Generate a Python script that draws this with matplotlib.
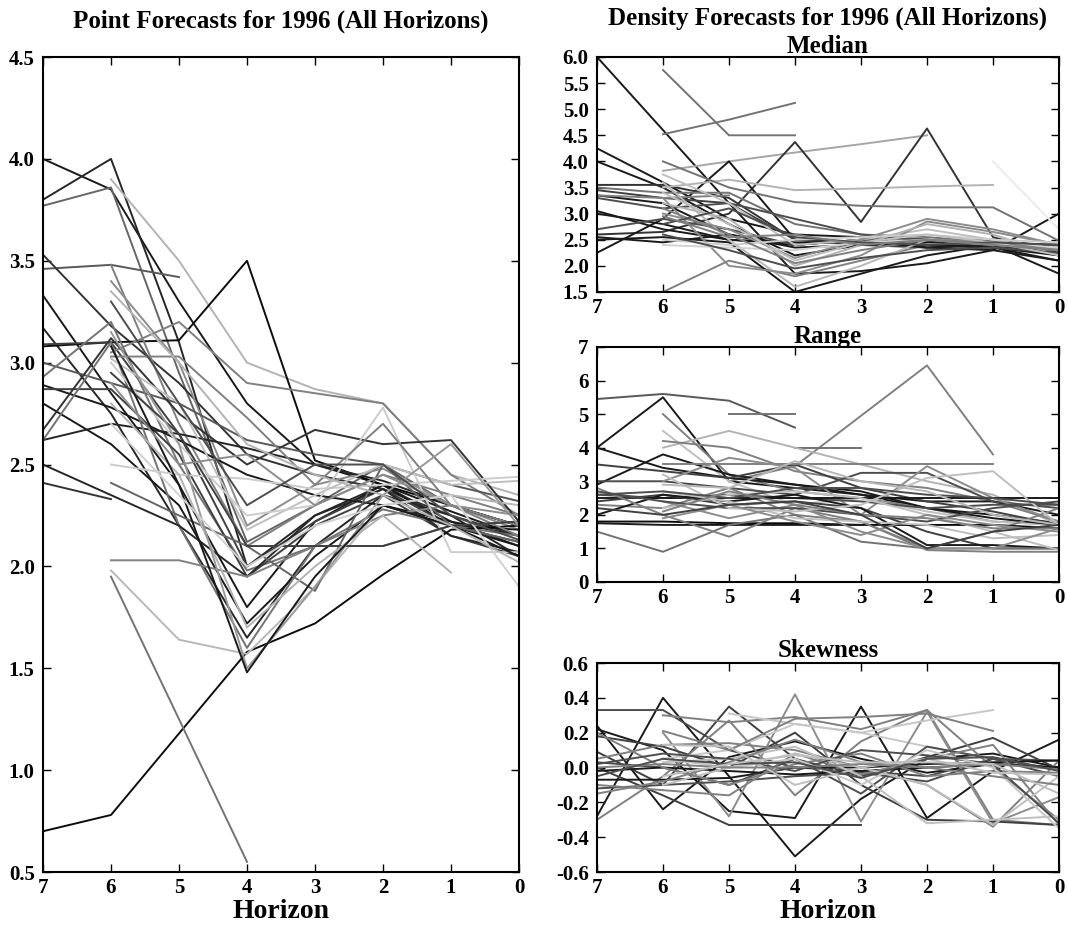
import numpy as np
import matplotlib
matplotlib.use("Agg")
import matplotlib.pyplot as plt
from matplotlib.ticker import FormatStrFormatter, MultipleLocator

N = np.nan
horizons = [7, 6, 5, 4, 3, 2, 1, 0]

# point forecasts, one row per forecaster, horizons 7..0
point_series = [
    [4.00, 3.85, 3.30, 2.80, 2.50, 2.40, 2.27, 2.15],
    [3.80, 4.00, 3.10, 2.00, 2.25, 2.40, 2.22, 2.10],
    [3.77, 3.86, 2.95, 2.12, 2.30, 2.50, 2.30, 2.20],
    [N, 3.90, 3.50, 3.00, 2.87, 2.80, 2.45, 2.35],
    [3.46, 3.48, 3.42, N, N, N, N, N],
    [3.53, 3.18, 2.90, 2.55, 2.45, 2.38, 2.25, 2.15],
    [3.33, 2.85, 2.40, 1.80, 2.22, 2.40, 2.20, 2.10],
    [3.17, 2.75, 2.20, 1.65, 2.10, 2.35, 2.25, 2.05],
    [3.08, 3.10, 3.11, 3.50, 2.52, 2.40, 2.30, 2.20],
    [3.09, 3.10, 2.65, 2.00, 2.22, 2.38, 2.20, 2.12],
    [N, 3.48, 2.70, 2.10, 2.30, 2.45, 2.35, 2.25],
    [N, 3.40, 3.00, 2.20, 2.40, 2.48, 2.30, 2.18],
    [N, 3.05, 3.20, 2.90, 2.85, 2.80, 2.45, 2.25],
    [3.00, 2.90, 2.80, 2.62, 2.55, 2.50, 2.40, 2.32],
    [2.93, 3.20, 2.50, 1.98, 2.10, 2.10, 2.20, 2.22],
    [2.89, 2.78, 2.62, 2.45, 2.35, 2.30, 2.22, 2.15],
    [2.87, 2.87, 2.55, 1.95, 2.20, 2.35, 2.15, 2.05],
    [2.80, 2.60, 2.30, 1.72, 2.05, 2.30, 2.20, 2.18],
    [2.67, 3.12, 2.75, 2.50, 2.67, 2.60, 2.62, 2.22],
    [2.62, 2.70, 2.65, 2.58, 2.50, 2.42, 2.30, 2.20],
    [2.62, 3.10, 2.20, 1.60, 2.10, 2.28, 2.20, 2.15],
    [2.50, 2.35, 2.20, 1.95, 2.25, 2.38, 2.15, 2.07],
    [2.41, 2.33, N, N, N, N, N, N],
    [0.70, 0.78, 1.18, 1.58, 1.72, 1.96, 2.18, 2.20],
    [N, 2.03, 2.03, 1.95, 2.10, 2.25, 2.30, 2.20],
    [N, 1.95, 1.25, 0.55, N, N, N, N],
    [N, 1.98, 1.64, 1.57, 1.90, 2.30, 2.35, 2.30],
    [N, 2.41, 2.25, 2.10, 1.88, 2.50, 2.20, 2.12],
    [N, 2.50, 2.45, 2.43, 2.38, 2.40, 2.42, 2.44],
    [N, 3.02, 2.80, 2.18, 2.35, 2.50, 2.40, 2.42],
    [N, 3.00, 2.60, 2.25, 2.30, 2.78, 2.07, 2.07],
    [N, 3.03, 3.03, 2.73, 2.40, 2.70, 2.30, 2.15],
    [N, 2.95, 2.65, 2.10, 2.10, 2.10, 2.20, 2.22],
    [N, 2.80, 2.45, 1.70, 2.00, 2.25, 1.97, N],
    [N, 3.15, 2.60, 1.50, 1.90, 2.35, 2.60, 2.20],
    [N, 3.08, 2.40, 1.48, 1.95, 2.30, 2.20, 2.05],
    [N, 2.90, 2.50, 2.55, 2.30, 2.45, 2.30, 2.25],
    [N, 2.70, 2.35, 2.00, 2.20, 2.30, 2.35, 1.90],
    [N, 3.35, 3.00, 2.60, 2.45, 2.35, 2.20, 2.02],
    [N, 3.30, 2.80, 2.30, 2.50, 2.50, 2.25, 2.13],
]
point_shades = [0.1, 0.15, 0.4, 0.7, 0.35, 0.2, 0.1, 0.15, 0.05, 0.25,
                0.5, 0.55, 0.5, 0.35, 0.45, 0.1, 0.25, 0.1, 0.2, 0.15,
                0.45, 0.15, 0.2, 0.05, 0.5, 0.45, 0.72, 0.4, 0.8, 0.75,
                0.8, 0.5, 0.25, 0.7, 0.6, 0.1, 0.55, 0.82, 0.7, 0.3]

median_series = [
    [6.00, 4.60, 3.20, 1.85, 1.90, 2.05, 2.30, 2.10],
    [N, 5.75, 4.50, 4.50, N, N, N, N],
    [N, 4.52, 4.80, 5.12, N, N, N, N],
    [N, 3.82, 4.00, 4.17, 4.33, 4.50, N, N],
    [2.60, 2.65, 3.00, 4.37, 2.84, 4.63, 2.55, 2.20],
    [2.25, 2.90, 4.00, 2.50, 2.45, 2.35, 2.30, 3.00],
    [4.25, 3.60, 2.90, 2.60, 2.55, 2.50, 2.45, 2.40],
    [4.00, 3.50, 2.80, 2.20, 2.40, 2.50, 2.40, 2.30],
    [3.55, 3.55, 3.30, 2.50, 2.45, 2.40, 2.40, 2.25],
    [3.50, 3.40, 3.40, 2.80, 2.60, 2.55, 2.45, 2.30],
    [N, 3.50, 3.65, 3.45, 3.48, 3.52, 3.55, N],
    [N, 4.00, 3.50, 3.22, 3.15, 3.12, 3.12, 2.48],
    [N, 1.50, 2.10, 1.80, 2.10, 2.40, 2.35, 2.30],
    [N, N, N, N, N, N, 4.00, 2.70],
    [3.45, 3.30, 3.20, 2.50, 2.40, 2.35, 2.40, 2.20],
    [3.35, 3.20, 2.60, 2.40, 2.50, 2.40, 2.35, 2.20],
    [3.30, 3.10, 3.20, 2.90, 2.60, 2.50, 2.45, 2.35],
    [3.05, 2.70, 2.50, 2.40, 2.50, 2.35, 2.40, 2.25],
    [3.00, 2.80, 2.50, 2.45, 2.45, 2.40, 2.35, 2.10],
    [2.70, 2.90, 2.70, 2.40, 2.50, 2.45, 2.40, 2.30],
    [2.55, 2.45, 2.60, 2.35, 2.40, 2.45, 2.50, 2.35],
    [2.50, 2.55, 2.45, 1.50, 1.85, 2.20, 2.40, 1.85],
    [3.35, 3.30, 3.35, N, N, N, N, N],
    [N, 3.75, 3.20, 2.40, 2.50, 2.70, 2.50, 2.30],
    [N, 3.60, 2.50, 1.60, 2.00, 2.50, 2.40, 2.35],
    [N, 3.30, 2.00, 1.85, 2.20, 2.85, 2.65, 2.40],
    [N, 3.20, 2.90, 2.00, 2.40, 2.80, 2.60, 2.20],
    [N, 3.00, 2.70, 2.15, 2.50, 2.90, 2.70, 2.40],
    [N, 2.50, 2.40, 2.50, 2.55, 2.60, 2.50, 2.45],
    [N, 2.40, 2.35, 2.30, 2.45, 2.50, 2.45, 2.35],
    [N, 3.10, 2.60, 2.05, 2.30, 2.50, 2.45, 2.30],
    [N, 2.60, 2.30, 1.95, 2.15, 2.30, 2.35, 2.25],
    [N, 3.40, 2.80, 2.10, 2.45, 2.60, 2.45, 2.20],
    [N, 2.80, 3.10, 2.55, 2.45, 2.40, 2.45, 2.40],
    [N, 2.95, 2.55, 2.60, 2.40, 2.50, 2.40, 2.30],
]
median_shades = [0.1, 0.45, 0.45, 0.65, 0.2, 0.1, 0.1, 0.1, 0.2, 0.45,
                 0.7, 0.45, 0.5, 0.92, 0.25, 0.1, 0.3, 0.1, 0.1, 0.3,
                 0.1, 0.1, 0.5, 0.75, 0.72, 0.55, 0.7, 0.55, 0.8, 0.82,
                 0.5, 0.3, 0.75, 0.3, 0.5]

range_series = [
    [5.45, 5.60, 5.40, 4.60, N, N, N, N],
    [N, N, 5.00, 5.00, N, N, N, N],
    [4.00, 5.50, 3.00, 2.80, 2.60, 2.20, 2.00, 1.75],
    [N, 5.00, 3.20, 2.70, 2.50, 2.20, 1.80, 1.70],
    [N, N, 3.00, 3.45, 4.95, 6.45, 3.80, N],
    [N, N, N, 4.00, 4.00, N, N, N],
    [N, 4.50, 3.00, 2.30, 2.50, 2.10, 1.80, 1.70],
    [N, 4.00, 4.50, 4.00, 3.50, 3.00, 2.60, 1.70],
    [N, 4.20, 4.00, 3.30, 3.00, 2.80, 2.40, 1.80],
    [4.00, 3.40, 3.10, 2.90, 2.70, 2.20, 1.90, 1.70],
    [2.90, 3.80, 3.20, 2.90, 2.60, 2.40, 2.40, 2.00],
    [3.50, 3.30, 3.10, 3.50, 2.80, 2.40, 2.10, 1.70],
    [N, 3.50, 3.50, 3.50, 3.50, 3.50, 3.50, N],
    [3.00, 3.00, 2.80, 2.60, 3.25, 3.25, 2.40, 2.20],
    [N, 3.00, 3.70, 3.40, 2.00, 3.45, 2.50, 1.80],
    [2.60, 2.50, 2.60, 2.50, 2.40, 2.20, 2.30, 2.30],
    [2.50, 2.50, 2.50, 2.50, 2.50, 2.50, 2.50, 2.50],
    [2.40, 2.60, 2.30, 2.40, 2.20, 1.50, 1.00, 1.00],
    [2.30, 2.20, 2.80, 2.00, 1.80, 1.00, 1.50, 2.20],
    [2.00, 2.60, 2.40, 2.60, 2.20, 1.10, 1.10, 1.00],
    [1.80, 1.80, 1.75, 1.75, 1.70, 1.70, 1.70, 1.60],
    [1.75, 1.70, 1.70, 1.70, 1.70, N, N, N],
    [1.50, 0.90, 1.70, 2.00, 1.20, 1.00, 1.00, 1.00],
    [2.80, 2.00, 1.35, 2.20, 1.80, 0.95, 0.90, 0.90],
    [N, 2.20, 2.60, 2.70, 2.50, 2.00, 1.50, 0.95],
    [N, 2.70, 2.40, 1.90, 1.80, 1.70, 1.30, 1.40],
    [N, 2.40, 1.90, 2.30, 1.50, 1.00, 1.00, 1.60],
    [2.70, 2.40, 2.20, 2.20, 2.00, 1.80, 2.20, 2.40],
    [N, 3.20, 2.20, 2.10, 2.30, 3.10, 3.30, 1.70],
    [N, 1.90, 2.30, 1.80, 1.40, 2.00, 1.70, 1.50],
    [2.60, 2.70, 2.50, 2.80, 2.80, 2.60, 2.50, 2.30],
    [N, 2.90, 2.80, 3.60, 3.00, 2.70, 2.00, 1.70],
    [N, 2.10, 2.70, 2.30, 2.00, 1.90, 1.60, 1.60],
    [2.20, 2.00, 2.30, 2.40, 2.00, 1.00, 1.50, 1.70],
]
range_shades = [0.35, 0.45, 0.1, 0.5, 0.5, 0.45, 0.75, 0.7, 0.5, 0.1,
                0.1, 0.25, 0.5, 0.3, 0.55, 0.3, 0.1, 0.25, 0.5, 0.1,
                0.05, 0.1, 0.45, 0.5, 0.75, 0.75, 0.55, 0.3, 0.75, 0.55,
                0.3, 0.72, 0.5, 0.25]

skew_series = [
    [-0.28, 0.40, -0.05, -0.51, -0.18, 0.05, 0.08, 0.00],
    [0.33, 0.33, 0.10, 0.00, -0.02, -0.05, 0.05, -0.01],
    [0.24, -0.24, 0.06, 0.15, 0.05, -0.03, 0.02, 0.00],
    [0.22, 0.10, -0.25, -0.29, 0.35, -0.29, -0.02, 0.16],
    [0.00, -0.16, -0.33, -0.33, -0.33, N, N, N],
    [0.09, -0.10, 0.35, 0.05, -0.05, 0.06, 0.17, -0.01],
    [-0.30, -0.05, 0.27, -0.16, 0.15, 0.33, -0.30, -0.33],
    [N, 0.30, 0.26, 0.29, 0.22, 0.33, 0.00, -0.30],
    [N, N, 0.31, 0.25, 0.20, 0.12, 0.05, -0.05],
    [N, 0.20, -0.28, 0.42, -0.31, 0.32, -0.32, -0.17],
    [0.18, 0.12, 0.00, 0.20, -0.10, -0.30, -0.31, -0.33],
    [0.05, 0.13, 0.14, 0.10, 0.00, -0.10, -0.34, 0.04],
    [N, 0.05, 0.10, 0.25, 0.20, 0.27, 0.33, N],
    [N, 0.21, 0.10, 0.28, 0.29, 0.31, 0.21, N],
    [-0.12, -0.10, -0.08, -0.05, -0.03, -0.08, 0.05, 0.04],
    [-0.07, -0.07, -0.06, 0.00, 0.00, 0.02, 0.03, 0.04],
    [0.03, 0.00, -0.10, 0.05, -0.15, 0.12, 0.05, -0.05],
    [-0.02, 0.00, -0.02, -0.04, -0.02, 0.00, 0.02, 0.00],
    [-0.10, -0.13, -0.16, 0.08, -0.04, 0.05, 0.13, -0.33],
    [N, 0.03, 0.05, 0.12, -0.05, -0.32, -0.30, -0.28],
    [N, -0.10, 0.00, 0.08, 0.00, -0.10, -0.33, -0.05],
    [0.20, 0.00, -0.10, 0.02, 0.08, -0.05, -0.02, -0.03],
    [0.02, 0.08, 0.05, -0.02, 0.10, 0.07, 0.02, -0.32],
    [N, 0.05, 0.00, 0.05, -0.10, 0.10, 0.00, -0.35],
    [-0.15, -0.08, 0.03, 0.16, 0.03, 0.00, -0.05, -0.10],
    [N, 0.13, 0.12, -0.10, 0.00, 0.05, -0.03, -0.04],
    [0.00, 0.02, 0.00, 0.00, 0.02, 0.00, 0.02, -0.01],
    [-0.05, 0.05, 0.02, 0.03, -0.06, 0.05, 0.06, -0.02],
    [N, -0.05, 0.02, 0.07, 0.03, 0.03, 0.02, -0.15],
]
skew_shades = [0.1, 0.3, 0.1, 0.1, 0.25, 0.25, 0.5, 0.5, 0.78, 0.55,
               0.25, 0.5, 0.78, 0.5, 0.3, 0.1, 0.3, 0.1, 0.5, 0.75,
               0.75, 0.5, 0.3, 0.78, 0.5, 0.75, 0.5, 0.3, 0.75]

plt.rcParams['font.family'] = 'Liberation Serif'
plt.rcParams['font.weight'] = 'bold'

TITLE_FS = 18
TICK_FS = 15
LABEL_FS = 20


def draw_panel(ax, series, shades, ylim, ystep, fmt):
    for vals, g in zip(series, shades):
        ax.plot(horizons, vals, color=str(g), lw=1.4)
    ax.set_xlim(7, 0)
    ax.set_ylim(*ylim)
    ax.xaxis.set_major_locator(MultipleLocator(1))
    ax.yaxis.set_major_locator(MultipleLocator(ystep))
    ax.xaxis.set_major_formatter(FormatStrFormatter('%d'))
    ax.yaxis.set_major_formatter(FormatStrFormatter(fmt))
    ax.tick_params(direction='in', top=True, right=True, length=6, width=1,
                   labelsize=TICK_FS)
    ax.tick_params(axis='y', pad=6)
    ax.tick_params(axis='x', pad=4)
    for lab in ax.get_xticklabels() + ax.get_yticklabels():
        lab.set_fontweight('bold')
    for sp in ax.spines.values():
        sp.set_linewidth(1.5)


fig = plt.figure(figsize=(10.67, 9.26), dpi=100)

ax_pt = fig.add_axes([0.0403, 0.0583, 0.4461, 0.8801])
draw_panel(ax_pt, point_series, point_shades, (0.5, 4.5), 0.5, '%.1f')
ax_pt.set_title('Point Forecasts for 1996 (All Horizons)', fontsize=TITLE_FS,
                fontweight='bold', pad=21)
ax_pt.set_xlabel('Horizon', fontsize=LABEL_FS, fontweight='bold', labelpad=1)

ax_med = fig.add_axes([0.5595, 0.6847, 0.433, 0.2538])
draw_panel(ax_med, median_series, median_shades, (1.5, 6.0), 0.5, '%.1f')
ax_med.set_title('Median', fontsize=TITLE_FS, fontweight='bold', pad=3)
fig.text(0.776, 0.980, 'Density Forecasts for 1996 (All Horizons)',
         ha='center', va='center', fontsize=TITLE_FS, fontweight='bold')

ax_rng = fig.add_axes([0.5595, 0.3715, 0.433, 0.2538])
draw_panel(ax_rng, range_series, range_shades, (0, 7), 1, '%d')
ax_rng.set_title('Range', fontsize=TITLE_FS, fontweight='bold', pad=3)

ax_sk = fig.add_axes([0.5595, 0.0583, 0.433, 0.2257])
draw_panel(ax_sk, skew_series, skew_shades, (-0.6, 0.6), 0.2, '%.1f')
ax_sk.set_title('Skewness', fontsize=TITLE_FS, fontweight='bold', pad=4)
ax_sk.set_xlabel('Horizon', fontsize=LABEL_FS, fontweight='bold', labelpad=1)

fig.savefig('out.png', dpi=100)
